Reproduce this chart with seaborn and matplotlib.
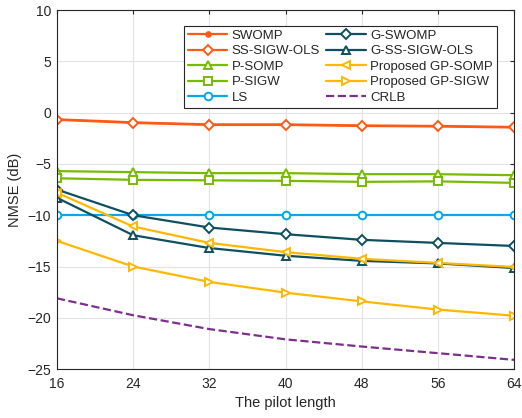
import numpy as np
import pandas as pd
import seaborn as sns
import matplotlib.pyplot as plt

pilot = [16, 24, 32, 40, 48, 56, 64]

swomp = [-0.65, -0.95, -1.15, -1.15, -1.25, -1.3, -1.4]
ss_sigw_ols = [-0.7, -1.0, -1.2, -1.2, -1.3, -1.35, -1.45]
p_somp = [-5.7, -5.8, -5.9, -5.9, -6.0, -6.0, -6.1]
p_sigw = [-6.4, -6.55, -6.6, -6.65, -6.75, -6.7, -6.85]
ls = [-10, -10, -10, -10, -10, -10, -10]
g_swomp = [-7.5, -10.0, -11.2, -11.85, -12.4, -12.7, -13.0]
g_ss_sigw_ols = [-8.3, -11.95, -13.2, -13.95, -14.45, -14.7, -15.15]
gp_somp = [-7.8, -11.1, -12.7, -13.6, -14.25, -14.65, -15.05]
gp_sigw = [-12.5, -15.0, -16.5, -17.55, -18.4, -19.2, -19.8]
crlb = [-18.1, -19.75, -21.1, -22.1, -22.8, -23.45, -24.1]

orange = "#FF5A14"
green = "#77BB00"
teal = "#0F4F5F"
yellow = "#FFB800"
blue = "#00A8F0"
purple = "#7E2F8E"

series = [
    ("SWOMP", swomp, orange, "o", "-"),
    ("SS-SIGW-OLS", ss_sigw_ols, orange, "D", "-"),
    ("P-SOMP", p_somp, green, "^", "-"),
    ("P-SIGW", p_sigw, green, "s", "-"),
    ("LS", ls, blue, "o", "-"),
    ("G-SWOMP", g_swomp, teal, "D", "-"),
    ("G-SS-SIGW-OLS", g_ss_sigw_ols, teal, "^", "-"),
    ("Proposed GP-SOMP", gp_somp, yellow, "<", "-"),
    ("Proposed GP-SIGW", gp_sigw, yellow, ">", "-"),
    ("CRLB", crlb, purple, None, "--"),
]

sns.set_style("whitegrid")
plt.rcParams["font.family"] = ["Liberation Sans", "DejaVu Sans"]

fig = plt.figure(figsize=(5.22, 4.18), dpi=100)
ax = fig.add_axes([0.109, 0.117, 0.876, 0.859])

for name, vals, col, mk, ls_ in series:
    df = pd.DataFrame({"x": pilot, "y": vals})
    kw = dict(color=col, linewidth=1.6, linestyle=ls_, label=name)
    if mk is None:
        kw["dashes"] = (4, 4)
    elif name == "SWOMP":
        kw.update(marker=mk, markersize=4, markerfacecolor=col,
                  markeredgecolor=col)
    else:
        kw.update(marker=mk, markersize=5.5 if mk != "D" else 4.6,
                  markerfacecolor="white", markeredgecolor=col,
                  markeredgewidth=1.4)
    sns.lineplot(data=df, x="x", y="y", ax=ax, **kw)

ax.set_xlim(16, 64)
ax.set_ylim(-25, 10)
ax.set_xticks(pilot)
ax.set_yticks(range(-25, 11, 5))
ax.set_xlabel("The pilot length", fontsize=10.5, labelpad=3)
ax.set_ylabel("NMSE (dB)", fontsize=10.5)
ax.tick_params(direction="in", top=True, right=True, labelsize=10,
               length=3, width=0.8, colors="#262626")
ax.tick_params(axis="x", pad=6)
ax.tick_params(axis="y", pad=4)
ax.grid(True, color="#E3E3E3", linewidth=0.8)
for sp in ax.spines.values():
    sp.set_color("#262626")
    sp.set_linewidth(0.8)

leg = ax.legend(ncol=2, loc="upper right", bbox_to_anchor=(0.976, 0.975),
                fontsize=9.5, handlelength=3.0, labelspacing=0.25,
                columnspacing=0.5, handletextpad=0.3, borderpad=0.3,
                fancybox=False, framealpha=1)
leg.get_frame().set_edgecolor("#262626")
leg.get_frame().set_linewidth(0.8)

fig.savefig("out.png", dpi=100)
